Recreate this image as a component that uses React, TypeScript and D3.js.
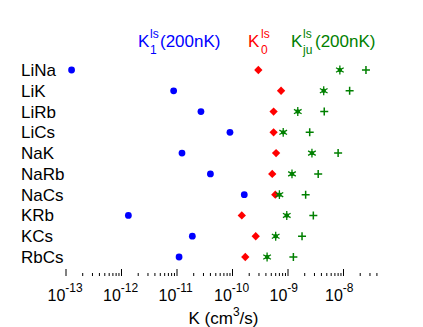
import React from 'react';
import * as d3 from 'd3';

// molecules, top to bottom
const molecules = ['LiNa', 'LiK', 'LiRb', 'LiCs', 'NaK', 'NaRb', 'NaCs', 'KRb', 'KCs', 'RbCs'];

// rate coefficients (cm^3/s)
const k1 = [1.26e-13, 8.7e-12, 2.7e-11, 9.0e-11, 1.23e-11, 4.0e-11, 1.63e-10, 1.33e-12, 1.89e-11, 1.09e-11];
const k0 = [2.92e-10, 7.5e-10, 5.5e-10, 5.5e-10, 6.1e-10, 5.2e-10, 5.9e-10, 1.47e-10, 2.62e-10, 1.7e-10];
const kjuStar = [8.6e-9, 4.4e-9, 1.5e-9, 8.2e-10, 2.7e-9, 1.18e-9, 7.0e-10, 9.5e-10, 6.0e-10, 4.2e-10];
const kjuPlus = [2.54e-8, 1.29e-8, 4.5e-9, 2.46e-9, 8.0e-9, 3.5e-9, 2.08e-9, 2.86e-9, 1.79e-9, 1.25e-9];

const decades = [-13, -12, -11, -10, -9, -8];
const tickMax = 4e-8;

const BLUE = '#0000ff';
const RED = '#ff0000';
const GREEN = '#008000';
const FONT = '"Liberation Sans", Arial, Helvetica, sans-serif';

const App = () => {
  const width = 423;
  const height = 327;
  const axisY = 276;

  const x = d3.scaleLog().domain([1e-13, 1e-8]).range([66, 343.5]);
  const y = d3.scalePoint<string>().domain(molecules).range([70, 257]);

  // all log ticks: 1..9 x 10^d
  const ticks: { v: number; major: boolean }[] = [];
  decades.forEach((d) => {
    for (let m = 1; m <= 9; m++) {
      const v = m * Math.pow(10, d);
      if (v <= tickMax) ticks.push({ v, major: m === 1 });
    }
  });

  const diamond = d3.symbol().type(d3.symbolDiamond2).size(44)();
  const star = d3.symbol().type(d3.symbolAsterisk).size(55)();

  return (
    <div style={{ position: 'absolute', left: 0, top: 0 }}>
      <svg width={width} height={height} style={{ display: 'block', fontFamily: FONT }}>
        <rect width={width} height={height} fill="white" />

        {/* legend */}
        <g fontSize={17}>
          <text x={138} y={47} fill={BLUE}>K</text>
          <text x={150} y={38} fill={BLUE} fontSize={12}>ls</text>
          <text x={150} y={54} fill={BLUE} fontSize={12}>1</text>
          <text x={160} y={47} fill={BLUE}>(200nK)</text>

          <text x={248} y={47} fill={RED}>K</text>
          <text x={261} y={38} fill={RED} fontSize={12}>ls</text>
          <text x={261} y={54} fill={RED} fontSize={12}>0</text>

          <text x={291} y={47} fill={GREEN}>K</text>
          <text x={303} y={38} fill={GREEN} fontSize={12}>ls</text>
          <text x={303} y={54} fill={GREEN} fontSize={12}>ju</text>
          <text x={315} y={47} fill={GREEN}>(200nK)</text>
        </g>

        {/* row labels */}
        {molecules.map((m) => (
          <text key={m} x={21} y={(y(m) as number) + 6} fontSize={17} fill="black">
            {m}
          </text>
        ))}

        {/* markers */}
        {molecules.map((m, i) => {
          const cy = y(m) as number;
          return (
            <g key={m}>
              <circle cx={x(k1[i])} cy={cy} r={3.4} fill={BLUE} />
              <path d={diamond || ''} transform={`translate(${x(k0[i])},${cy})`} fill={RED} />
              <circle cx={x(kjuStar[i])} cy={cy} r={2.2} fill={GREEN} />
              <path
                d={star || ''}
                transform={`translate(${x(kjuStar[i])},${cy})`}
                fill={GREEN}
                stroke={GREEN}
                strokeWidth={1.3}
              />
              <path
                d={`M${x(kjuPlus[i]) - 4},${cy}h8M${x(kjuPlus[i])},${cy - 4}v8`}
                stroke={GREEN}
                strokeWidth={1.5}
                fill="none"
              />
            </g>
          );
        })}

        {/* x axis ticks */}
        {ticks.map((t, i) => (
          <line
            key={i}
            x1={x(t.v)}
            x2={x(t.v)}
            y1={axisY}
            y2={axisY - (t.major ? 7 : 3)}
            stroke="black"
            strokeWidth={1}
          />
        ))}

        {/* x tick labels */}
        {decades.map((d) => (
          <text key={d} x={x(Math.pow(10, d)) - 18.5} y={301} fontSize={16} fill="black">
            10
            <tspan dy={-9} fontSize={12}>
              {d}
            </tspan>
          </text>
        ))}

        {/* axis title */}
        <text x={223.5} y={324} fontSize={17} textAnchor="middle" fill="black">
          K (cm
          <tspan dy={-8} fontSize={12}>3</tspan>
          <tspan dy={8}>/s)</tspan>
        </text>
      </svg>
    </div>
  );
};

export default App;
